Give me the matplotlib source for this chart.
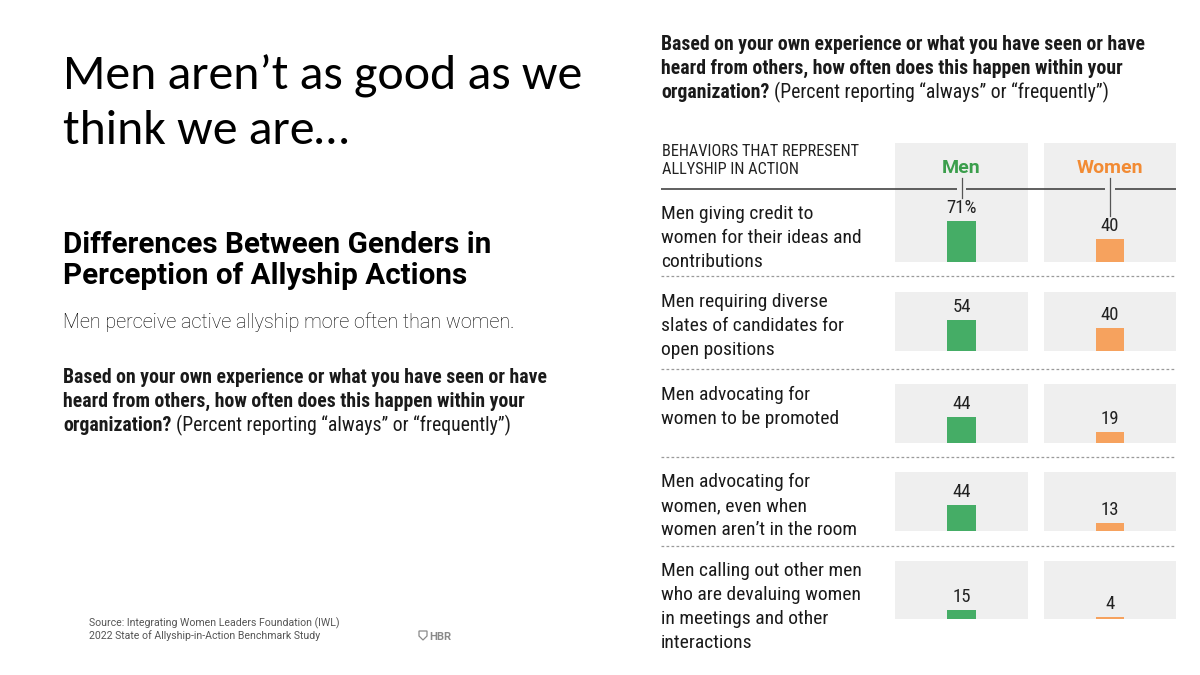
import matplotlib
matplotlib.use("Agg")
import matplotlib.pyplot as plt
from matplotlib.patches import Polygon

# data
behaviors = [
    ["Men giving credit to", "women for their ideas and", "contributions"],
    ["Men requiring diverse", "slates of candidates for", "open positions"],
    ["Men advocating for", "women to be promoted"],
    ["Men advocating for", "women, even when", "women aren\u2019t in the room"],
    ["Men calling out other men", "who are devaluing women", "in meetings and other", "interactions"],
]
men = [71, 54, 44, 44, 15]
women = [40, 40, 19, 13, 4]
groups = ["Men", "Women"]

question_bold = ["Based on your own experience or what you have seen or have",
                 "heard from others, how often does this happen within your",
                 "organization?"]
question_rest = "(Percent reporting \u201calways\u201d or \u201cfrequently\u201d)"

GREEN = "#45ad66"
ORANGE = "#f6a25e"
GREEN_TXT = "#3b9e4c"
ORANGE_TXT = "#f28b34"
PANEL = "#efefef"
COND = "Roboto Condensed"

W, H = 1200, 675
fig = plt.figure(figsize=(12, 6.75), dpi=100)
fig.patch.set_facecolor("white")


def rect(x0, y0, x1, y1):
    return [x0 / W, 1 - y1 / H, (x1 - x0) / W, (y1 - y0) / H]


# bar panels, one small axes per row and group
row_top = [143, 292, 384, 472, 561]
row_bot = [262, 351, 443, 531, 619]
col_x = [(895, 1028), (1044, 1176)]
px_per_pct = 0.58
bar_w = 29 / 133

for i in range(len(men)):
    for g, (vals, col) in enumerate([(men, GREEN), (women, ORANGE)]):
        x0, x1 = col_x[g]
        a = fig.add_axes(rect(x0, row_top[i], x1, row_bot[i]))
        a.set_facecolor(PANEL)
        a.set_xlim(-0.5, 0.5)
        a.set_ylim(0, (row_bot[i] - row_top[i]) / px_per_pct)
        a.bar([0], [vals[i]], width=bar_w, color=col, linewidth=0)
        lab = f"{vals[i]}%" if (i == 0 and g == 0) else f"{vals[i]}"
        a.annotate(lab, (0, vals[i]), xytext=(0, 3), textcoords="offset points",
                   ha="center", va="bottom", fontsize=13.5, family=COND, color="#222222")
        for s in a.spines.values():
            s.set_visible(False)
        a.set_xticks([])
        a.set_yticks([])

# overlay for text and rules
ax = fig.add_axes([0, 0, 1, 1], zorder=10)
ax.set_xlim(0, W)
ax.set_ylim(H, 0)
ax.axis("off")
ax.patch.set_alpha(0)

# headline
ax.text(63, 90, "Men aren\u2019t as good as we", family="Carlito", fontsize=35.8, color="black", va="baseline")
ax.text(63, 144, "think we are\u2026", family="Carlito", fontsize=35.8, color="black", va="baseline")

ax.text(63, 253, "Differences Between Genders in", family="Roboto", weight="bold", fontsize=21.3, va="baseline")
ax.text(63, 284, "Perception of Allyship Actions", family="Roboto", weight="bold", fontsize=21.3, va="baseline")
ax.text(63, 328, "Men perceive active allyship more often than women.", family="Roboto", weight="light",
        fontsize=14.2, color="black", va="baseline")

fig.canvas.draw()
renderer = fig.canvas.get_renderer()


def question(x, y0):
    t = None
    for k, line in enumerate(question_bold):
        t = ax.text(x, y0 + 24 * k, line, family=COND, weight="bold", fontsize=14.2,
                    color="#1a1a1a", va="baseline")
    bb = t.get_window_extent(renderer)
    ax.text(bb.x1 + 5, y0 + 48, question_rest, family=COND, fontsize=14.2, color="#1a1a1a", va="baseline")


question(63, 383)
question(661, 50)

# column header
ax.text(662, 156, "BEHAVIORS THAT REPRESENT", family=COND, fontsize=11.7, color="#222222", va="baseline")
ax.text(662, 174, "ALLYSHIP IN ACTION", family=COND, fontsize=11.7, color="#222222", va="baseline")
centers = [(a + b) / 2 for a, b in col_x]
ax.text(centers[0], 168, groups[0], family="Roboto", weight="bold", fontsize=14, color=GREEN_TXT,
        ha="center", va="center")
ax.text(centers[1], 168, groups[1], family="Roboto", weight="bold", fontsize=14, color=ORANGE_TXT,
        ha="center", va="center")

# solid rule with gaps at the leader ticks
ax.plot([661, 957], [189, 189], color="#444444", lw=1.2, solid_capstyle="butt")
ax.plot([966, centers[1] - 5], [189, 189], color="#444444", lw=1.2, solid_capstyle="butt")
ax.plot([centers[1] + 5, 1176], [189, 189], color="#444444", lw=1.2, solid_capstyle="butt")
ax.plot([centers[0], centers[0]], [178, 198], color="#555555", lw=0.9)
ax.plot([centers[1], centers[1]], [178, 216], color="#555555", lw=0.9)

# dashed separators
for y in [276, 369, 457, 546]:
    ax.plot([661, 1176], [y, y], color="#9a9a9a", lw=0.9, dashes=(2.2, 1.8))

# row labels
first_base = [219, 307, 400, 487, 576]
for i, lines in enumerate(behaviors):
    for k, line in enumerate(lines):
        ax.text(661, first_base[i] + 24 * k, line, family=COND, fontsize=14, color="#1a1a1a", va="baseline")

# source and logo
ax.text(89, 626, "Source: Integrating Women Leaders Foundation (IWL)", family="Roboto", fontsize=7.6,
        color="#555555", va="baseline")
ax.text(89, 639, "2022 State of Allyship-in-Action Benchmark Study", family="Roboto", fontsize=7.6,
        color="#555555", va="baseline")
ax.add_patch(Polygon([[419, 631], [427, 631], [427, 636], [423, 640], [419, 636]], closed=True,
                     fill=False, edgecolor="#8a8a8a", lw=0.9))
ax.text(429, 640, "HBR", family="Roboto", weight="bold", fontsize=8, color="#8a8a8a", va="baseline")

fig.savefig("out.png", dpi=100)
